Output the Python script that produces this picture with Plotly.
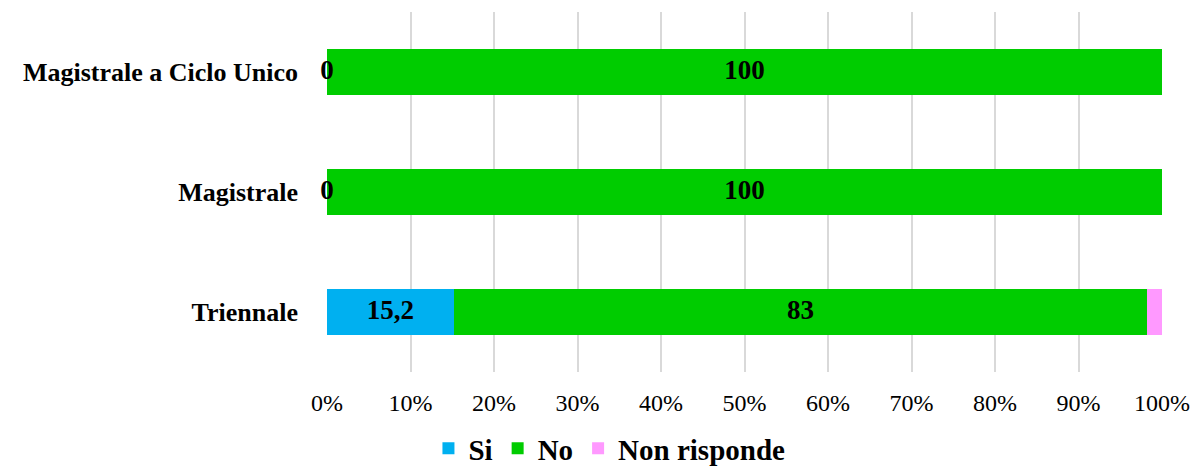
import plotly.graph_objects as go

# Percentages per degree type
categories = ["Triennale", "Magistrale", "Magistrale a Ciclo Unico"]
si = [15.2, 0, 0]
no = [83, 100, 100]
non_risponde = [1.8, 0, 0]

series = [
    ("Si", si, "#00B0F0"),
    ("No", no, "#00CC00"),
    ("Non risponde", non_risponde, "#FF99FF"),
]

SERIF = "Liberation Serif"

fig = go.Figure()
for name, vals, color in series:
    fig.add_trace(go.Bar(
        name=name, y=categories, x=vals, orientation="h",
        marker=dict(color=color, line=dict(width=0)),
        hoverinfo="x+name",
    ))

# Value labels centred on the Si and No segments
def fmt(v):
    return f"{v:g}".replace(".", ",")

lab_x, lab_y, lab_t = [], [], []
for i, cat in enumerate(categories):
    lab_x.append(si[i] / 2)
    lab_y.append(cat)
    lab_t.append(fmt(si[i]))
    lab_x.append(si[i] + no[i] / 2)
    lab_y.append(cat)
    lab_t.append(fmt(no[i]))

fig.add_trace(go.Scatter(
    x=lab_x, y=lab_y, text=lab_t, mode="text",
    textposition="middle center",
    textfont=dict(family=SERIF, size=27, color="#000000", weight="bold"),
    showlegend=False, hoverinfo="skip", cliponaxis=False,
))

fig.update_layout(
    barmode="stack",
    bargap=0.61,
    width=1195, height=474,
    margin=dict(l=327, r=33, t=12, b=102, autoexpand=False),
    paper_bgcolor="white", plot_bgcolor="white",
    font=dict(family=SERIF, color="#000000"),
    showlegend=True,
    legend=dict(
        orientation="h", xref="container", yref="container",
        x=0.51, xanchor="center", y=-0.012, yanchor="bottom",
        font=dict(family=SERIF, size=29, weight="bold"),
        itemwidth=30, traceorder="normal",
    ),
    xaxis=dict(
        range=[0, 100], dtick=10, ticksuffix="%",
        showgrid=True, gridcolor="#D9D9D9", gridwidth=1.5,
        zeroline=False, showline=False, ticks="",
        tickfont=dict(family=SERIF, size=24),
        ticklabelstandoff=14, automargin=False,
    ),
    yaxis=dict(
        type="category", categoryorder="array", categoryarray=categories,
        showgrid=False, zeroline=False, showline=False, ticks="",
        tickfont=dict(family=SERIF, size=26, weight="bold"),
        ticklabelstandoff=28, automargin=False,
    ),
)

fig.write_html("out.html")
